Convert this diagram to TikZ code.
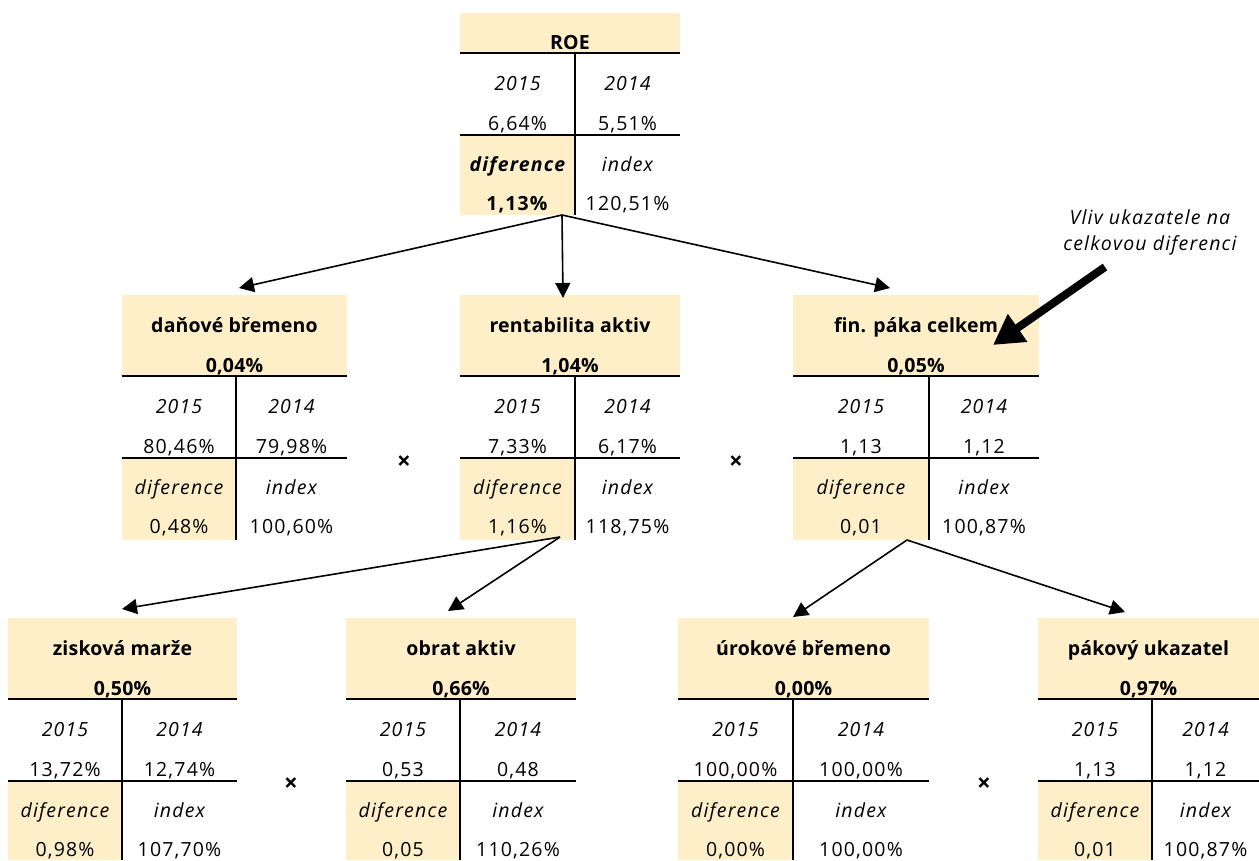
\documentclass[tikz,border=0pt]{standalone}
\usepackage{fontspec}
\setmainfont{Open Sans}
\usetikzlibrary{arrows.meta}
\definecolor{hdrfill}{RGB}{254,239,200}

% One ratio box: name, left x, middle x, right x, header top, header rule, bottom,
% title, value; then the cells: 2015, 2014, difference label, difference, index
\newcommand\ratiobox[9]{%
  \def\rbname{#1}\def\rbl{#2}\def\rbm{#3}\def\rbr{#4}%
  \def\rbt{#5}\def\rbh{#6}\def\rbb{#7}\def\rbtitle{#8}\def\rbvalue{#9}%
  \ratioboxcells}
\newcommand\ratioboxcells[5]{%
  \fill[hdrfill] (\rbl,\rbt) rectangle (\rbr,\rbh);
  \fill[hdrfill] (\rbl,\rbh+82) rectangle (\rbm,\rbb);
  \draw[rule] (\rbl,\rbh) -- (\rbr,\rbh) (\rbl,\rbh+82) -- (\rbr,\rbh+82)
              (\rbm,\rbh) -- (\rbm,\rbb);
  \ifx\rbtitle\empty\else
    \node[ttl] (\rbname-title) at ({(\rbl+\rbr)/2},\rbh-44) {\rbtitle};
  \fi
  \node[ttl] (\rbname-value) at ({(\rbl+\rbr)/2},\rbh-4) {\rbvalue};
  \node[lbl] (\rbname-ya) at ({(\rbl+\rbm)/2},\rbh+37) {2015};
  \node[lbl] (\rbname-yb) at ({(\rbm+\rbr)/2},\rbh+37) {2014};
  \node[cell] (\rbname-va) at ({(\rbl+\rbm)/2},\rbh+77) {#1};
  \node[cell] (\rbname-vb) at ({(\rbm+\rbr)/2},\rbh+77) {#2};
  \node[lbl] (\rbname-dl) at ({(\rbl+\rbm)/2},\rbh+118) {#3};
  \node[lbl] (\rbname-il) at ({(\rbm+\rbr)/2},\rbh+118) {index};
  \node[cell] (\rbname-dv) at ({(\rbl+\rbm)/2},\rbh+157) {#4};
  \node[cell] (\rbname-iv) at ({(\rbm+\rbr)/2},\rbh+157) {#5};
}

\begin{document}
\begin{tikzpicture}[x=1pt,y=-1pt,
  cell/.style={inner sep=0pt,anchor=base,
    font=\fontsize{19.5}{22}\selectfont\addfontfeature{LetterSpace=6}},
  lbl/.style={cell,font=\fontsize{19.5}{22}\selectfont\itshape\addfontfeature{LetterSpace=6}},
  ttl/.style={cell,font=\fontsize{19.5}{22}\selectfont\bfseries\addfontfeature{LetterSpace=1}},
  rule/.style={line width=2pt},
  link/.style={line width=1.6pt,-{Triangle[length=15pt,width=15pt]}},
  bigarrow/.style={line width=8pt,-{Triangle[length=30pt,width=32pt]}},
  times/.style={inner sep=0pt,font=\fontsize{24}{24}\selectfont\bfseries},
  note/.style={inner sep=0pt,align=center,
    font=\fontsize{19.5}{26}\selectfont\itshape\addfontfeature{LetterSpace=6}}]
\useasboundingbox (0,0) rectangle (1259,860);

% top level
\ratiobox{roe}{460}{575}{680}{13}{53}{215}{}{ROE}
  {6,64\%}{5,51\%}{\textbf{diference}}{\textbf{1,13\%}}{120,51\%}

% second level
\ratiobox{tax}{122}{236}{347}{295}{376}{540}{daňové břemeno}{0,04\%}
  {80,46\%}{79,98\%}{diference}{0,48\%}{100,60\%}
\ratiobox{roa}{460}{575}{680}{295}{376}{540}{rentabilita aktiv}{1,04\%}
  {7,33\%}{6,17\%}{diference}{1,16\%}{118,75\%}
\ratiobox{fin}{793}{929}{1039}{295}{376}{540}{fin. páka celkem}{0,05\%}
  {1,13}{1,12}{diference}{0,01}{100,87\%}

% third level
\ratiobox{margin}{8}{122}{237}{618}{699}{860}{zisková marže}{0,50\%}
  {13,72\%}{12,74\%}{diference}{0,98\%}{107,70\%}
\ratiobox{turn}{346}{460}{576}{618}{699}{860}{obrat aktiv}{0,66\%}
  {0,53}{0,48}{diference}{0,05}{110,26\%}
\ratiobox{int}{678}{793}{929}{618}{699}{860}{úrokové břemeno}{0,00\%}
  {100,00\%}{100,00\%}{diference}{0,00\%}{100,00\%}
\ratiobox{lev}{1038}{1152}{1259}{618}{699}{860}{pákový ukazatel}{0,97\%}
  {1,13}{1,12}{diference}{0,01}{100,87\%}

% multiplication signs between factors
\node[times] (x1) at (404,463) {×};
\node[times] (x2) at (736,463) {×};
\node[times] (x3) at (291,785) {×};
\node[times] (x4) at (984,785) {×};

% connector end points
\coordinate (roe-out) at (562,215);
\coordinate (tax-in) at (239,288);
\coordinate (roa-in) at (563,298);
\coordinate (fin-in) at (890,288);
\coordinate (roa-out) at (560,537);
\coordinate (margin-in) at (122,609);
\coordinate (turn-in) at (448,611);
\coordinate (fin-out) at (907,540);
\coordinate (int-in) at (793,617);
\coordinate (lev-in) at (1125,612);

\draw[link] (roe-out) -- (tax-in);
\draw[link] (roe-out) -- (roa-in);
\draw[link] (roe-out) -- (fin-in);
\draw[link] (roa-out) -- (margin-in);
\draw[link] (roa-out) -- (turn-in);
\draw[link] (fin-out) -- (int-in);
\draw[link] (fin-out) -- (lev-in);

% annotation
\node[note] (note) at (1150,232) {Vliv ukazatele na\\celkovou diferenci};
\coordinate (note-tail) at (1105,267);
\coordinate (note-tip) at (993,345);
\draw[bigarrow] (note-tail) -- (note-tip);
\end{tikzpicture}
\end{document}
